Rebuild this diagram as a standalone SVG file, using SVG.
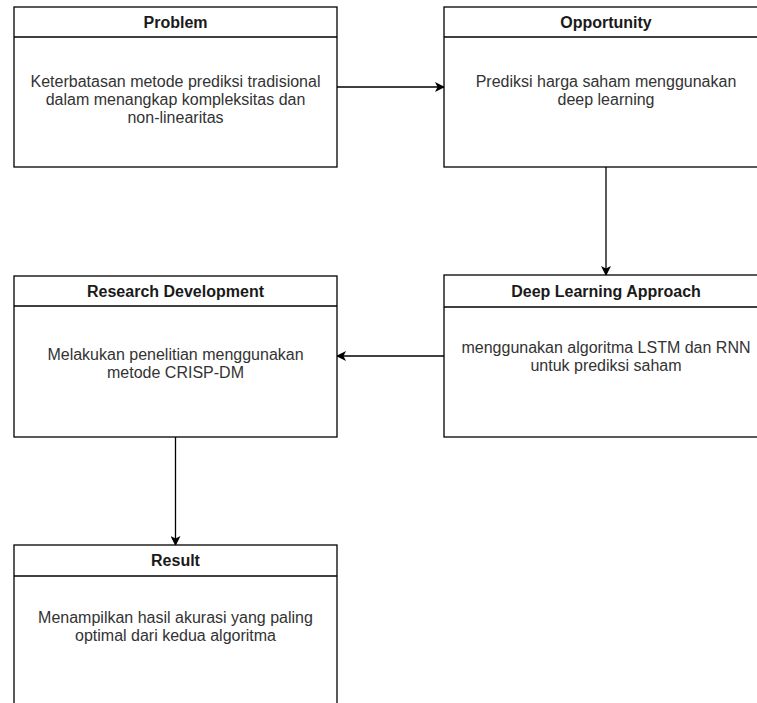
<svg xmlns="http://www.w3.org/2000/svg" width="757" height="703" viewBox="0 0 757 703">
<style>
.box{fill:#fff;stroke:#000;stroke-width:1.3}
.sep{stroke:#000;stroke-width:1.3}
.title{font-family:"Liberation Sans",Arial,sans-serif;font-size:16px;font-weight:bold;fill:#1a1a1a;text-anchor:middle}
.body{font-family:"Liberation Sans",Arial,sans-serif;font-size:16px;fill:#333;text-anchor:middle}
.conn{fill:none;stroke:#000;stroke-width:1.3}
</style>
<defs>
<marker id="arr" viewBox="0 0 10 10" refX="9" refY="5" markerWidth="10" markerHeight="10" markerUnits="userSpaceOnUse" orient="auto">
<path d="M0,0 L10,5 L0,10 L2.5,5 Z" fill="#000"/>
</marker>
</defs>
<rect width="757" height="703" fill="#fff"/>
<g id="connectors">
<line class="conn" x1="337" y1="87" x2="444" y2="87" marker-end="url(#arr)"/>
<line class="conn" x1="606" y1="167" x2="606" y2="275" marker-end="url(#arr)"/>
<line class="conn" x1="444" y1="356" x2="337" y2="356" marker-end="url(#arr)"/>
<line class="conn" x1="175.5" y1="437" x2="175.5" y2="545" marker-end="url(#arr)"/>
</g>
<g id="problem">
<rect class="box" x="14" y="7" width="323" height="160"/>
<line class="sep" x1="14" y1="37" x2="337" y2="37"/>
<text class="title" x="175.5" y="28">Problem</text>
<text class="body" x="175.5" y="87">Keterbatasan metode prediksi tradisional</text>
<text class="body" x="175.5" y="105">dalam menangkap kompleksitas dan</text>
<text class="body" x="175.5" y="123">non-linearitas</text>
</g>
<g id="opportunity">
<rect class="box" x="444" y="7" width="324" height="160"/>
<line class="sep" x1="444" y1="37" x2="768" y2="37"/>
<text class="title" x="606" y="28">Opportunity</text>
<text class="body" x="606" y="87">Prediksi harga saham menggunakan</text>
<text class="body" x="606" y="105">deep learning</text>
</g>
<g id="deep-learning">
<rect class="box" x="444" y="275" width="324" height="162"/>
<line class="sep" x1="444" y1="307" x2="768" y2="307"/>
<text class="title" x="606" y="297">Deep Learning Approach</text>
<text class="body" x="606" y="353">menggunakan algoritma LSTM dan RNN</text>
<text class="body" x="606" y="371">untuk prediksi saham</text>
</g>
<g id="research">
<rect class="box" x="14" y="276" width="323" height="161"/>
<line class="sep" x1="14" y1="306" x2="337" y2="306"/>
<text class="title" x="175.5" y="297">Research Development</text>
<text class="body" x="175.5" y="360">Melakukan penelitian menggunakan</text>
<text class="body" x="175.5" y="378">metode CRISP-DM</text>
</g>
<g id="result">
<rect class="box" x="14" y="545" width="323" height="165"/>
<line class="sep" x1="14" y1="576" x2="337" y2="576"/>
<text class="title" x="175.5" y="566">Result</text>
<text class="body" x="175.5" y="623">Menampilkan hasil akurasi yang paling</text>
<text class="body" x="175.5" y="641">optimal dari kedua algoritma</text>
</g>
</svg>
